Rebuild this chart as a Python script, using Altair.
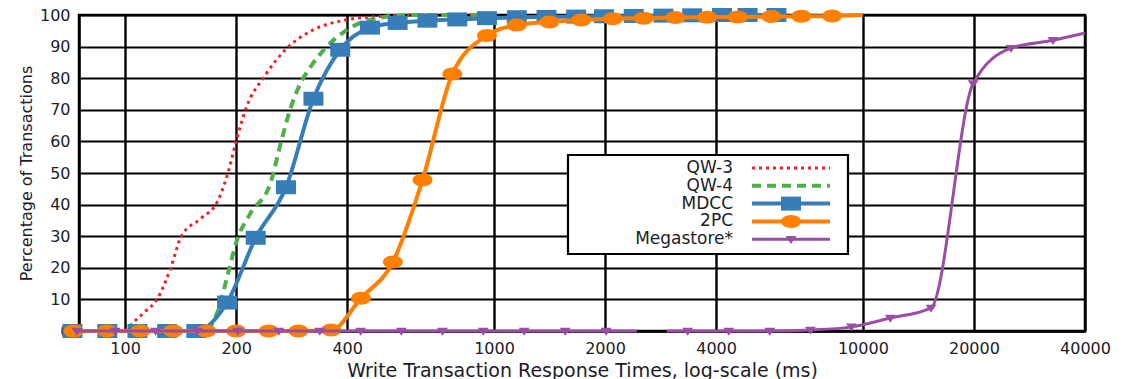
import altair as alt
import pandas as pd

# ---- series -------------------------------------------------------------
SERIES = ["QW-3", "QW-4", "MDCC", "2PC", "Megastore*"]
COLORS = ["#ec2229", "#4daf4a", "#377eb8", "#ff7f00", "#984ea3"]

X_TICKS = [100, 200, 400, 1000, 2000, 4000, 10000, 20000, 40000]
Y_TICKS = [0, 10, 20, 30, 40, 50, 60, 70, 80, 90, 100]

# QW-3 : dotted, no markers
qw3_ms = [100, 106, 113, 122, 133, 142, 160, 178, 190, 200, 212, 240, 272, 320, 400, 480, 600, 1000]
qw3_pct = [0, 3, 6, 10, 20, 30, 35.5, 41, 50, 60, 70, 81, 89, 95, 98.5, 99.5, 100, 100]

# QW-4 : dashed, no markers
qw4_ms = [168, 178, 190, 200, 218, 248, 265, 280, 295, 320, 349, 402, 485, 600, 1000]
qw4_pct = [0, 6, 18, 28, 37, 47, 60, 70, 77, 84, 89.5, 95.5, 99, 100, 100]

# MDCC : squares
mdcc_ms = [72, 89.5, 108, 130, 156, 189, 226, 273, 324, 383, 461, 548, 660, 795, 957,
           1153, 1388, 1670, 1987, 2392, 2880, 3445, 4150, 4870, 5830]
mdcc_pct = [0, 0, 0, 0, 0, 9, 29.5, 45.5, 73.5, 89, 96, 97.5, 98.2, 98.6, 99,
            99.3, 99.4, 99.5, 99.6, 99.7, 99.8, 99.9, 100, 100, 100]

# 2PC : circles
tpc_ms = [72.5, 89.5, 110, 135, 166, 200, 245, 295, 362, 436, 532, 640, 771, 957, 1153,
          1413, 1723, 2100, 2545, 3100, 3780, 4580, 5650, 6810, 8250, 10000]
tpc_pct = [0, 0, 0, 0, 0, 0, 0, 0, 0.3, 10.4, 21.8, 47.8, 81.3, 93.5, 96.8,
           97.8, 98.4, 98.8, 99, 99.2, 99.3, 99.4, 99.5, 99.6, 99.7, 100]
tpc_marker = [True] * 25 + [False]

# Megastore* : down triangles, line broken between two runs
mega_ms = [74, 94, 121, 157, 202, 261, 337, 435, 561, 725, 935, 1207, 1560, 2013, 2440,
           2940, 3350, 4330, 5590, 7210, 9310, 11870, 15300, 19900, 25200, 32760, 40000]
mega_pct = [0, 0, 0, 0, 0, 0, 0, 0, 0, 0, 0, 0, 0, 0, 0,
            0, 0, 0, 0, 0.3, 1.3, 4.1, 7.3, 78.3, 89.5, 92, 94.3]
mega_marker = [True] * 14 + [False, False] + [True] * 10 + [False]
mega_seg = [0] * 15 + [1] * 12


def frame(name, ms, pct, marker=None, seg=None):
    n = len(ms)
    return pd.DataFrame({
        "series": [name] * n,
        "ms": ms,
        "pct": pct,
        "marker": marker if marker is not None else [True] * n,
        "seg": seg if seg is not None else [0] * n,
    })


frames = [
    frame(SERIES[0], qw3_ms, qw3_pct, [False] * len(qw3_ms)),
    frame(SERIES[1], qw4_ms, qw4_pct, [False] * len(qw4_ms)),
    frame(SERIES[2], mdcc_ms, mdcc_pct),
    frame(SERIES[3], tpc_ms, tpc_pct, tpc_marker),
    frame(SERIES[4], mega_ms, mega_pct, mega_marker, mega_seg),
]

# ---- styling ------------------------------------------------------------
FONT = "DejaVu Sans"
TEXT = "#1c1c28"

RECT = "M-1,-0.7L1,-0.7L1,0.7L-1,0.7Z"
OVAL = "M-1,0A1,0.65,0,1,1,1,0A1,0.65,0,1,1,-1,0Z"
TRI = "M-1,-0.6L1,-0.6L0,0.85Z"

STYLE = [
    dict(width=3, dash=[3, 4], shape=None, size=0),
    dict(width=4, dash=[9, 6], shape=None, size=0),
    dict(width=4, dash=None, shape=RECT, size=400),
    dict(width=4, dash=None, shape=OVAL, size=400),
    dict(width=3, dash=None, shape=TRI, size=121),
]

x_enc = alt.X(
    "ms:Q",
    scale=alt.Scale(type="log", domain=[75, 40000]),
    axis=alt.Axis(
        values=X_TICKS, format="d", title="Write Transaction Response Times, log-scale (ms)",
        grid=True, gridColor="#000", gridWidth=2.4, gridOpacity=1,
        ticks=True, tickSize=0, tickOpacity=0,
        labelFlush=False, labelOverlap=False, labelBound=False,
        labelFont=FONT, labelFontSize=16, labelColor=TEXT,
        labelBaseline="alphabetic", labelPadding=22,
        titleFont=FONT, titleFontSize=19, titleFontWeight="normal", titleColor=TEXT,
        titleBaseline="alphabetic", titleY=45,
        domainColor="#000", domainWidth=2.5,
    ),
)
y_enc = alt.Y(
    "pct:Q",
    scale=alt.Scale(domain=[0, 100], nice=False),
    axis=alt.Axis(
        values=Y_TICKS, title="Percentage of Transactions",
        grid=True, gridColor="#000", gridWidth=2, gridOpacity=1,
        ticks=True, tickSize=0, tickOpacity=0,
        labelFlush=False, labelOverlap=False, labelBound=False,
        labelFont=FONT, labelFontSize=16, labelColor=TEXT,
        labelBaseline="middle", labelPadding=9,
        titleFont=FONT, titleFontSize=16, titleFontWeight="normal", titleColor=TEXT,
        titleAngle=270, titleBaseline="alphabetic", titleAlign="center",
        titleX=-48, titleY=158,
        domainColor="#000", domainWidth=2.5,
    ),
)

layers = []
for i, df in enumerate(frames):
    st = STYLE[i]
    line_kw = dict(color=COLORS[i], strokeWidth=st["width"], interpolate="monotone",
                   strokeCap="butt", clip=False)
    if st["dash"]:
        line_kw["strokeDash"] = st["dash"]
    layers.append(
        alt.Chart(df).mark_line(**line_kw).encode(x=x_enc, y=y_enc, detail="seg:N")
    )
    if st["shape"]:
        layers.append(
            alt.Chart(df)
            .transform_filter("datum.marker")
            .mark_point(shape=st["shape"], size=st["size"], filled=True, opacity=1,
                        color=COLORS[i], strokeWidth=0, clip=False)
            .encode(x=x_enc, y=y_enc)
        )

# ---- key box --------------------------------------------------------------
KEY_X0, KEY_X1, KEY_Y0, KEY_Y1 = 489, 769, 140, 239
KEY_TEXT_X = 654
KEY_LINE_X0, KEY_LINE_X1 = 673, 751
KEY_ROW0, KEY_STEP = 153, 17.8

layers.append(
    alt.Chart(pd.DataFrame({"k": [0]}))
    .mark_rect(fill="white", stroke="#000", strokeWidth=2.2)
    .encode(x=alt.value(KEY_X0), x2=alt.value(KEY_X1),
            y=alt.value(KEY_Y0), y2=alt.value(KEY_Y1))
)
for i, name in enumerate(SERIES):
    st = STYLE[i]
    ry = KEY_ROW0 + i * KEY_STEP
    layers.append(
        alt.Chart(pd.DataFrame({"label": [name]}))
        .mark_text(align="right", baseline="middle", font=FONT, fontSize=17, color=TEXT)
        .encode(text="label:N", x=alt.value(KEY_TEXT_X), y=alt.value(ry))
    )
    rule_kw = dict(color=COLORS[i], strokeWidth=st["width"], strokeCap="butt")
    if st["dash"]:
        rule_kw["strokeDash"] = st["dash"]
    layers.append(
        alt.Chart(pd.DataFrame({"label": [name]}))
        .mark_rule(**rule_kw)
        .encode(x=alt.value(KEY_LINE_X0), x2=alt.value(KEY_LINE_X1), y=alt.value(ry))
    )
    if st["shape"]:
        layers.append(
            alt.Chart(pd.DataFrame({"label": [name]}))
            .mark_point(shape=st["shape"], size=st["size"], filled=True, opacity=1,
                        color=COLORS[i], strokeWidth=0)
            .encode(x=alt.value((KEY_LINE_X0 + KEY_LINE_X1) / 2), y=alt.value(ry))
        )

chart = (
    alt.layer(*layers)
    .properties(
        width=1006,
        height=316,
        autosize=alt.AutoSizeParams(type="none"),
        padding={"left": 79, "top": 15, "right": 38, "bottom": 48},
        background="white",
    )
    .configure_view(stroke="#000", strokeWidth=2.5)
)

chart.save("out.html", embed_options={"renderer": "svg", "actions": False})
